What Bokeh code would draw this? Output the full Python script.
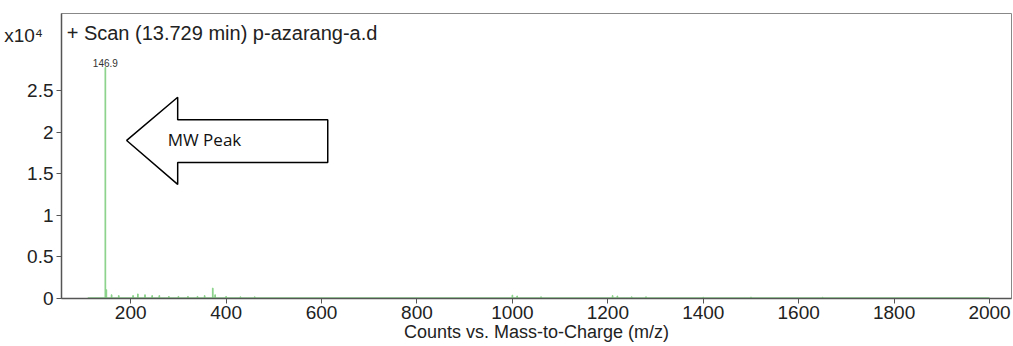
from bokeh.plotting import figure
from bokeh.models import Range1d, Label, FixedTicker, PolyAnnotation, ColumnDataSource
from bokeh.embed import file_html
from bokeh.resources import INLINE

# Spectrum (m/z, counts in units of 10^4)
mz = [146.9, 149.0, 160.0, 175.0, 205.0, 215.0, 230.0, 245.0, 260.0, 280.0, 300.0,
      320.0, 340.0, 355.0, 372.0, 377.0, 400.0, 430.0, 460.0, 1000.0, 1010.0, 1060.0,
      1210.0, 1220.0, 1250.0, 1280.0, 1400.0, 1500.0, 1650.0]
counts = [2.78, 0.10, 0.04, 0.03, 0.03, 0.05, 0.04, 0.03, 0.03, 0.02, 0.02,
          0.02, 0.02, 0.03, 0.12, 0.04, 0.02, 0.015, 0.015, 0.035, 0.025, 0.015,
          0.03, 0.025, 0.015, 0.015, 0.01, 0.012, 0.01]
baseline_mz = [110.0, 2000.0]
baseline_counts = [0.0, 0.0]

x_ticks = [200, 400, 600, 800, 1000, 1200, 1400, 1600, 1800, 2000]
y_ticks = [0, 0.5, 1, 1.5, 2, 2.5]
y_tick_labels = ["0", "0.5", "1", "1.5", "2", "2.5"]

scale_label = "x10\u2074  "
scale_label_y = 3.17

peak_label = "146.9"
peak_mz = 146.9
peak_counts = 2.78

title_text = "+ Scan (13.729 min) p-azarang-a.d"
x_label = "Counts vs. Mass-to-Charge (m/z)"

# annotation arrow (data units)
arrow_x = [191.6, 298.5, 298.5, 613.0, 613.0, 298.5, 298.5]
arrow_y = [1.90, 2.42, 2.15, 2.15, 1.635, 1.635, 1.37]

FONT = "Liberation Sans"
GREEN = "#8ad28a"
AXIS = "#555555"

p = figure(width=1013, height=346, output_backend="svg", toolbar_location=None,
           x_range=Range1d(55, 2046), y_range=Range1d(-0.005, 3.43),
           min_border_left=61, min_border_right=2, min_border_top=13, min_border_bottom=48)
p.background_fill_color = "white"
p.border_fill_color = "white"
p.outline_line_color = "#888888"
p.outline_line_width = 1
p.grid.visible = False

src = ColumnDataSource(dict(x=mz, top=counts))
p.vbar(x="x", top="top", bottom=0, width=1.5, source=src, color=GREEN)
p.line(baseline_mz, baseline_counts, color=GREEN, line_width=1.5)

for ax in (p.xaxis[0], p.yaxis[0]):
    ax.axis_line_color = AXIS
    ax.axis_line_width = 1.5
    ax.major_label_text_font = FONT
    ax.major_label_text_font_size = "19px"
    ax.major_label_text_color = "#222222"

# x axis
p.xaxis.ticker = FixedTicker(ticks=x_ticks)
p.xaxis.major_tick_line_color = AXIS
p.xaxis.major_tick_out = 5
p.xaxis.major_tick_in = 0
p.xaxis.minor_tick_line_color = None
p.xaxis.major_label_standoff = 2
p.xaxis.axis_label = x_label
p.xaxis.axis_label_text_font = FONT
p.xaxis.axis_label_text_font_size = "18px"
p.xaxis.axis_label_text_font_style = "normal"
p.xaxis.axis_label_text_color = "#222222"
p.xaxis.axis_label_standoff = 0

# y axis: labelled ticks drawn as minor ticks, the scale label as an unmarked major tick
p.yaxis.ticker = FixedTicker(ticks=y_ticks + [scale_label_y], minor_ticks=y_ticks)
overrides = {t: s for t, s in zip(y_ticks, y_tick_labels)}
overrides[scale_label_y] = scale_label
p.yaxis.major_label_overrides = overrides
p.yaxis.major_tick_line_color = None
p.yaxis.major_tick_out = 5
p.yaxis.major_tick_in = 0
p.yaxis.minor_tick_line_color = AXIS
p.yaxis.minor_tick_out = 5
p.yaxis.minor_tick_in = 0
p.yaxis.minor_tick_line_width = 1.2
p.yaxis.major_label_standoff = 3

p.add_layout(PolyAnnotation(xs=arrow_x, ys=arrow_y, fill_color="white", fill_alpha=1.0,
                            line_color="black", line_alpha=1.0, line_width=1.5))
p.add_layout(Label(x=277.6, y=1.91, text="MW Peak", text_font="Open Sans",
                   text_font_size="17px", text_baseline="middle", text_color="#111111"))

p.add_layout(Label(x=peak_mz, y=peak_counts, text=peak_label, text_font=FONT,
                   text_font_size="10px", text_align="center", text_baseline="bottom",
                   text_color="#333333"))
p.add_layout(Label(x=65.8, y=3.2, text=title_text, text_font=FONT,
                   text_font_size="20px", text_baseline="middle", text_color="#222222"))

open("out.html", "w").write(file_html(p, INLINE))
